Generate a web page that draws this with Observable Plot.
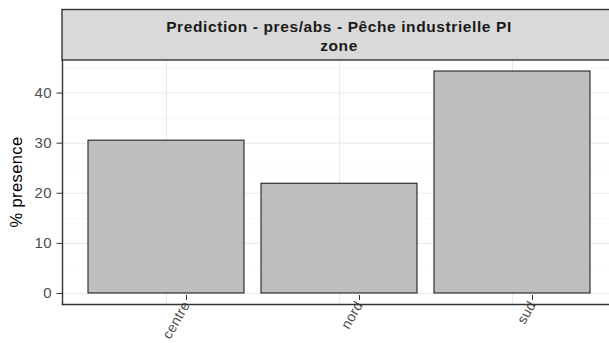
<!DOCTYPE html>
<html>
<head>
<meta charset="utf-8">
<script src="https://cdn.jsdelivr.net/npm/d3@7"></script>
<script src="https://cdn.jsdelivr.net/npm/@observablehq/plot@0.6"></script>
<style>
  html, body { margin: 0; padding: 0; background: #fff; }
  #chart { width: 609px; height: 343px; overflow: hidden; }
</style>
</head>
<body>
<div id="chart"></div>
<script>
const zones = ["centre", "nord", "sud"];
const presence = [30.5, 21.9, 44.3];
const yTicks = [0, 10, 20, 30, 40];
const yMinor = [5, 15, 25, 35, 45];
const stripTitle = ["Prediction - pres/abs - Pêche industrielle PI", "zone"];
const yLabel = "% presence";

const data = zones.map((z, i) => ({zone: z, value: presence[i]}));

const W = 609, H = 343;
const font = "'Liberation Sans', Arial, sans-serif";

const plot = Plot.plot({
  width: W,
  height: H,
  marginLeft: 62,
  marginTop: 60,
  marginBottom: 39,
  marginRight: 0,
  style: {fontFamily: font, background: "white", overflow: "visible"},
  x: {type: "band", domain: zones, range: [61.5, 616], paddingInner: 0.1, paddingOuter: 0.15},
  y: {domain: [-2.2, 46.5]},
  marks: [
    Plot.gridY(yMinor, {stroke: "#f3f3f3", strokeOpacity: 1, strokeWidth: 0.6}),
    Plot.gridY(yTicks, {stroke: "#ebebeb", strokeOpacity: 1, strokeWidth: 1.1}),
    Plot.gridX(zones, {stroke: "#ebebeb", strokeOpacity: 1, strokeWidth: 1.1}),
    Plot.barY(data, {x: "zone", y: "value", fill: "#bebebe", stroke: "#222", strokeWidth: 1.1}),
    Plot.axisY(yTicks, {
      tickSize: 5.5, tickPadding: 5, fontSize: 15, color: "#4d4d4d",
      stroke: "#333", label: null
    }),
    Plot.axisX(zones, {
      tickSize: 5, tickPadding: 2, fontSize: 14, color: "#4d4d4d", stroke: "#333",
      tickRotate: -60, label: null, dx: 20, dy: -9
    }),
    Plot.frame({anchor: "left", stroke: "#333", strokeWidth: 1.4}),
    Plot.frame({anchor: "bottom", stroke: "#333", strokeWidth: 1.4})
  ]
});

document.getElementById("chart").appendChild(plot);

// wider letter spacing on tick labels to mimic the reference rendering
d3.select(plot).selectAll("g[aria-label='y-axis tick label'] text").attr("letter-spacing", "0.4px");
d3.select(plot).selectAll("g[aria-label='x-axis tick label'] text").attr("letter-spacing", "0.3px");

// Facet strip (ggplot-style) above the panel
const svg = d3.select(plot);
const x0 = 62, x1 = 616, sTop = 9.5, sBot = 60;
const g = svg.append("g");
g.append("rect")
  .attr("x", x0).attr("y", sTop).attr("width", x1 - x0).attr("height", sBot - sTop)
  .attr("fill", "#d9d9d9").attr("stroke", "#333").attr("stroke-width", 1.4);
const cx = (x0 + x1) / 2;
g.append("text")
  .attr("x", cx).attr("y", 31.5)
  .attr("text-anchor", "middle")
  .attr("font-family", font).attr("font-weight", "bold").attr("font-size", 15.5)
  .attr("letter-spacing", "0.6px")
  .attr("fill", "#1a1a1a")
  .text(stripTitle[0]);
g.append("text")
  .attr("x", cx).attr("y", 51)
  .attr("text-anchor", "middle")
  .attr("font-family", font).attr("font-weight", "bold").attr("font-size", 15.5)
  .attr("letter-spacing", "0.6px")
  .attr("fill", "#1a1a1a")
  .text(stripTitle[1]);

// y axis title
svg.append("text")
  .attr("transform", `translate(22,${(60 + 304) / 2}) rotate(-90)`)
  .attr("text-anchor", "middle")
  .attr("font-family", font).attr("font-size", 16.5).attr("letter-spacing", "0.4px")
  .attr("fill", "#000")
  .text(yLabel);
</script>
</body>
</html>
